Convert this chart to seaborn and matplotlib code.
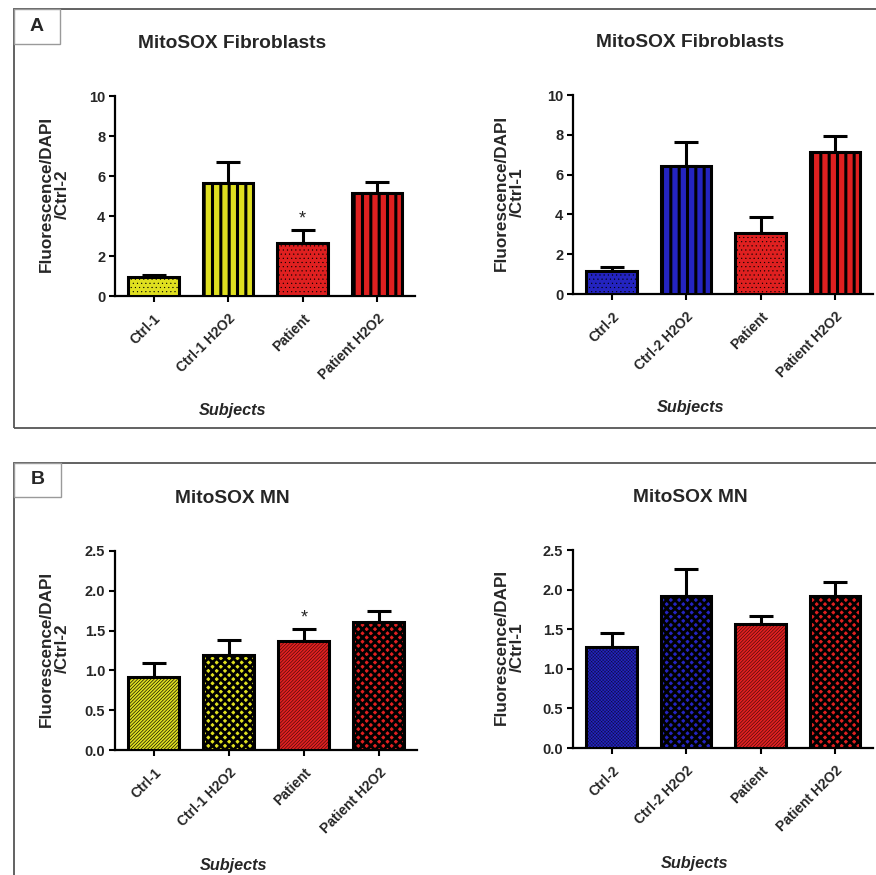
import numpy as np
import pandas as pd
import matplotlib
matplotlib.use("Agg")
import matplotlib.pyplot as plt
from matplotlib.patches import Rectangle
import seaborn as sns

# ---------------- data ----------------
cats_ctrl1 = ["Ctrl-1", "Ctrl-1 H2O2", "Patient", "Patient H2O2"]
cats_ctrl2 = ["Ctrl-2", "Ctrl-2 H2O2", "Patient", "Patient H2O2"]

fib_left = [0.93, 5.65, 2.65, 5.15]
fib_left_err = [0.13, 1.05, 0.65, 0.55]
fib_right = [1.17, 6.45, 3.07, 7.15]
fib_right_err = [0.17, 1.20, 0.80, 0.78]

mn_left = [0.92, 1.19, 1.37, 1.61]
mn_left_err = [0.17, 0.19, 0.15, 0.13]
mn_right = [1.28, 1.92, 1.57, 1.92]
mn_right_err = [0.17, 0.34, 0.10, 0.18]

titles = ["MitoSOX Fibroblasts", "MitoSOX Fibroblasts", "MitoSOX MN", "MitoSOX MN"]
ylabels = ["Fluorescence/DAPI\n/Ctrl-2", "Fluorescence/DAPI\n/Ctrl-1",
           "Fluorescence/DAPI\n/Ctrl-2", "Fluorescence/DAPI\n/Ctrl-1"]
xlabel = "Subjects"

YELLOW = "#FFFF00"
RED = "#FF0000"
BLUE = "#0A0ADA"

# ---------------- style ----------------
sns.set_style("ticks")
plt.rcParams["font.family"] = ["Liberation Sans", "DejaVu Sans"]
plt.rcParams["font.weight"] = "bold"

W, H = 876, 875
fig = plt.figure(figsize=(W / 100, H / 100), dpi=100)


def fx(x):
    return x / W


def fy(y):
    return 1 - y / H


# panel frames
fig.patches.append(Rectangle((fx(14), fy(428)), 2.0, (428 - 9) / H, transform=fig.transFigure,
                             fill=False, edgecolor="#555555", lw=1.3, zorder=0))
fig.patches.append(Rectangle((fx(14), -0.1), 2.0, fy(463) + 0.1, transform=fig.transFigure,
                             fill=False, edgecolor="#555555", lw=1.3, zorder=0))
for (x0, y0, x1, y1, letter) in [(14, 9, 60, 44, "A"), (14, 463, 61, 497, "B")]:
    fig.patches.append(Rectangle((fx(x0), fy(y1)), (x1 - x0) / W, (y1 - y0) / H,
                                 transform=fig.transFigure, facecolor="white",
                                 edgecolor="#9a9a9a", lw=1.0, zorder=1))
    fig.text(fx((x0 + x1) / 2), fy((y0 + y1) / 2), letter, ha="center", va="center",
             fontsize=14, fontweight="bold")

# axes boxes in pixels: left, top, right, bottom
boxes = [(115, 96, 415, 296), (573, 95, 873, 294), (115, 551, 417, 750), (573, 550, 873, 748)]

panels = [
    dict(cats=cats_ctrl1, vals=fib_left, err=fib_left_err, colors=[YELLOW, YELLOW, RED, RED],
         hatches=["....", "||", "....", "||"], hlw=[0.3, 2.2, 0.3, 2.2],
         ylim=(0, 10), yticks=[0, 2, 4, 6, 8, 10], fmt="{:.0f}", star=2),
    dict(cats=cats_ctrl2, vals=fib_right, err=fib_right_err, colors=[BLUE, BLUE, RED, RED],
         hatches=["....", "||", "....", "||"], hlw=[0.3, 2.2, 0.3, 2.2],
         ylim=(0, 10), yticks=[0, 2, 4, 6, 8, 10], fmt="{:.0f}", star=None),
    dict(cats=cats_ctrl1, vals=mn_left, err=mn_left_err, colors=[YELLOW, YELLOW, RED, RED],
         hatches=["//////////", "xxxx", "//////////", "xxxx"], hlw=[0.45, 2.0, 0.3, 2.0],
         ylim=(0, 2.5), yticks=[0, 0.5, 1.0, 1.5, 2.0, 2.5], fmt="{:.1f}", star=2),
    dict(cats=cats_ctrl2, vals=mn_right, err=mn_right_err, colors=[BLUE, BLUE, RED, RED],
         hatches=["xxxxxxxxxx", "xxxx", "//////////", "xxxx"], hlw=[0.2, 2.0, 0.3, 2.0],
         ylim=(0, 2.5), yticks=[0, 0.5, 1.0, 1.5, 2.0, 2.5], fmt="{:.1f}", star=None),
]

for i, (box, p) in enumerate(zip(boxes, panels)):
    l, t, r, b = box
    ax = fig.add_axes([fx(l), fy(b), (r - l) / W, (b - t) / H])
    df = pd.DataFrame({"cat": p["cats"], "val": p["vals"]})
    sns.barplot(data=df, x="cat", y="val", hue="cat", palette=p["colors"], legend=False,
                errorbar=None, width=0.68, edgecolor="black", linewidth=2.2, ax=ax, zorder=3)
    bars = sorted([pt for pt in ax.patches], key=lambda pt: pt.get_x())
    for bar, h, lw in zip(bars, p["hatches"], p["hlw"]):
        bar.set_hatch(h)
        if hasattr(bar, "set_hatch_linewidth"):
            bar.set_hatch_linewidth(lw)
    xs = np.arange(len(p["vals"]))
    ax.errorbar(xs, p["vals"], yerr=[np.zeros(len(p["err"])), p["err"]], fmt="none",
                ecolor="black", elinewidth=2.2, capsize=8.3, capthick=2.2, zorder=2)
    if p["star"] is not None:
        k = p["star"]
        top = p["vals"][k] + p["err"][k]
        ax.text(k, top + 0.015 * (p["ylim"][1] - p["ylim"][0]), "*", ha="center", va="bottom",
                fontsize=13, fontweight="normal")
    ax.set_xlim(-0.52, 3.51)
    ax.set_ylim(*p["ylim"])
    ax.set_yticks(p["yticks"])
    ax.set_yticklabels([p["fmt"].format(v) for v in p["yticks"]], fontsize=10.5, fontweight="bold")
    ax.set_xticks(xs)
    ax.set_xticklabels(p["cats"], rotation=45, ha="right", rotation_mode="anchor",
                       fontsize=10, fontweight="bold")
    ax.tick_params(axis="both", direction="out", length=4, width=1.5, color="black", pad=3)
    ax.tick_params(axis="x", pad=7)
    for s in ["top", "right"]:
        ax.spines[s].set_visible(False)
    for s in ["left", "bottom"]:
        ax.spines[s].set_linewidth(1.6)
        ax.spines[s].set_color("black")
    ax.set_ylabel(ylabels[i], fontsize=12.3, fontweight="bold", linespacing=1.1)
    ax.yaxis.set_label_coords(-0.15 if i % 2 == 0 else -0.16, 0.51)
    ax.set_xlabel(xlabel, fontsize=11.7, fontweight="bold", style="italic")
    ax.xaxis.set_label_coords(0.393 if i != 3 else 0.405, -0.535 if i < 2 else -0.545)
    ax.text(0.39, 1.265, titles[i], transform=ax.transAxes, ha="center", va="center",
            fontsize=13.8, fontweight="bold")
    ax.set_facecolor("none")

fig.savefig("out.png", dpi=100, facecolor="white")
